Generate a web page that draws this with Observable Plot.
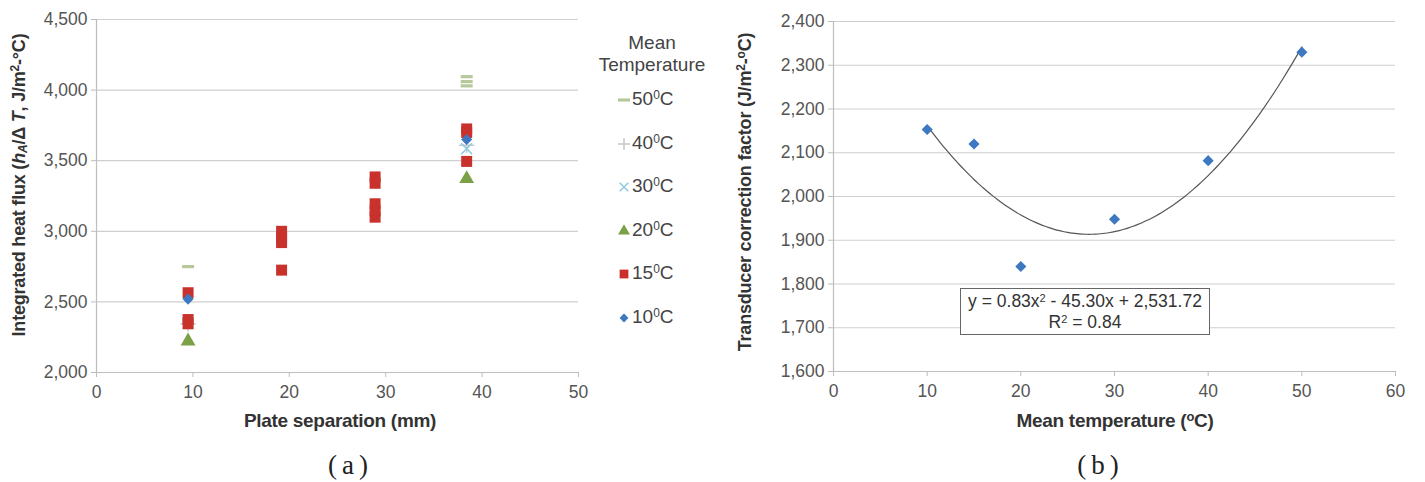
<!DOCTYPE html>
<html>
<head>
<meta charset="utf-8">
<script src="https://cdn.jsdelivr.net/npm/d3@7"></script>
<script src="https://cdn.jsdelivr.net/npm/@observablehq/plot@0.6"></script>
<style>
  html, body { margin: 0; padding: 0; background: #fff; }
  #wrap { position: relative; width: 1425px; height: 482px; overflow: hidden; font-family: "Liberation Sans", Arial, sans-serif; }
  .ytitle { position: absolute; font-weight: bold; font-size: 18px; color: #333; white-space: nowrap; transform: translate(-50%, -50%) rotate(-90deg); letter-spacing: -0.2px; }
  .xtitle { position: absolute; font-weight: bold; font-size: 19px; color: #333; white-space: nowrap; transform: translate(-50%, -50%); letter-spacing: -0.3px; }
  .cap { position: absolute; font-family: "Liberation Serif", "DejaVu Serif", serif; font-size: 27px; color: #222; transform: translate(-50%, -50%); white-space: nowrap; }
  .leg { position: absolute; font-size: 19px; color: #444; white-space: nowrap; }
  .eq { position: absolute; border: 1px solid #666; background: #fff; font-size: 17.5px; color: #333; text-align: center; line-height: 21px; box-sizing: border-box; white-space: nowrap; }
  sup { line-height: 0; vertical-align: 0.5em; }
  sub { line-height: 0; vertical-align: -0.2em; }
</style>
</head>
<body>
<div id="wrap"></div>
<script>
// ---------- Data: panel (a) ----------
const sepTicks = [0, 10, 20, 30, 40, 50];
const fluxTicks = [2000, 2500, 3000, 3500, 4000, 4500];
const legendLabels = ["50", "40", "30", "20", "15", "10"];

const sep50 = [9.5, 38.4, 38.4, 38.4];
const flux50 = [2750, 4095, 4060, 4030];
const sep40 = [9.5, 38.4];
const flux40 = [2345, 3610];
const sep30 = [9.5, 38.4];
const flux30 = [2350, 3585];
const sep20 = [9.5, 38.4];
const flux20 = [2222, 3372];
const sep15 = [9.5, 9.5, 9.5, 19.2, 19.2, 19.2, 19.2, 28.9, 28.9, 28.9, 28.9, 28.9, 38.4, 38.4, 38.4];
const flux15 = [2565, 2375, 2345, 3000, 2955, 2920, 2725, 3385, 3340, 3195, 3145, 3100, 3725, 3700, 3495];
const sep10 = [9.5, 38.4];
const flux10 = [2520, 3650];

// ---------- Data: panel (b) ----------
const tempTicks = [0, 10, 20, 30, 40, 50, 60];
const corrTicks = [1600, 1700, 1800, 1900, 2000, 2100, 2200, 2300, 2400];
const meanTemp = [10, 15, 20, 30, 40, 50];
const corrFactor = [2153, 2120, 1840, 1948, 2082, 2330];
const fitCoef = [0.83, -45.30, 2531.72]; // trendline y = a x^2 + b x + c, as printed on the chart
const fitRange = [10, 50];

// ---------- helpers ----------
const zip = (xs, ys) => xs.map((x, i) => ({x, y: ys[i]}));
const dashSymbol = { draw(ctx, size) { const w = 6, h = 1.6; ctx.moveTo(-w, -h); ctx.lineTo(w, -h); ctx.lineTo(w, h); ctx.lineTo(-w, h); ctx.closePath(); } };

const seriesA = [
  {name: "40", data: zip(sep40, flux40), symbol: "plus", stroke: "#c8c8c8", r: 5},
  {name: "30", data: zip(sep30, flux30), symbol: "times", stroke: "#8fcbe0", r: 5},
  {name: "20", data: zip(sep20, flux20), symbol: "triangle", fill: "#7ba046", r: 5.5},
  {name: "15", data: zip(sep15, flux15), symbol: "square", fill: "#c9322c", r: 6.2},
  {name: "50", data: zip(sep50, flux50), symbol: dashSymbol, fill: "#b7c99c", r: 5},
  {name: "10", data: zip(sep10, flux10), symbol: "diamond2", fill: "#3d78c0", r: 5}
];

const wrap = document.getElementById("wrap");
const tickStyle = {fontFamily: "'Liberation Sans', Arial, sans-serif", fontSize: "17.5px", color: "#555", background: "transparent", overflow: "visible"};

// ---------- Panel (a) ----------
const plotA = Plot.plot({
  width: 590, height: 432,
  marginLeft: 96, marginRight: 12, marginTop: 19, marginBottom: 60,
  style: tickStyle,
  x: {domain: [0, 50]},
  y: {domain: [2000, 4500]},
  marks: [
    Plot.ruleY(fluxTicks.slice(1), {stroke: "#cfcfcf", strokeWidth: 1.2}),
    Plot.ruleY([2000], {stroke: "#bdbdbd", strokeWidth: 1.2}),
    Plot.ruleX([0], {stroke: "#bdbdbd", strokeWidth: 1.2}),
    Plot.axisX({ticks: sepTicks, tickSize: 5, tickPadding: 8, label: null, stroke: "#bdbdbd", fill: "#555"}),
    Plot.axisY({ticks: fluxTicks, tickFormat: d3.format(","), tickSize: 5, tickPadding: 4, label: null, stroke: "#bdbdbd", fill: "#555"}),
    ...seriesA.map(s => Plot.dot(s.data, {x: "x", y: "y", symbol: () => s.symbol, r: s.r,
      fill: s.fill || "none", stroke: s.stroke || "none", strokeWidth: s.stroke ? 1.5 : 0}))
  ]
});
plotA.style.position = "absolute"; plotA.style.left = "0px"; plotA.style.top = "0px";
wrap.appendChild(plotA);

// axis titles (a)
const ya = document.createElement("div");
ya.className = "ytitle"; ya.style.left = "19px"; ya.style.top = "185px";
ya.innerHTML = "Integrated heat flux (<i>h</i><sub style='font-size:12px'><i>A</i></sub>/Δ <i>T</i>, J/m<sup style='font-size:12px'>2</sup>-°C)";
wrap.appendChild(ya);
const xa = document.createElement("div");
xa.className = "xtitle"; xa.style.left = "340px"; xa.style.top = "421px";
xa.textContent = "Plate separation (mm)";
wrap.appendChild(xa);

// legend (a)
const legHead = document.createElement("div");
legHead.className = "leg"; legHead.style.left = "596px"; legHead.style.top = "32px"; legHead.style.width = "112px";
legHead.style.textAlign = "center"; legHead.style.lineHeight = "22px";
legHead.innerHTML = "Mean<br>Temperature";
wrap.appendChild(legHead);
const legOrder = ["50", "40", "30", "20", "15", "10"];
legOrder.forEach((name, i) => {
  const s = seriesA.find(d => d.name === name);
  const y = 100 + i * 43.6;
  const svg = d3.create("svg").attr("width", 16).attr("height", 16)
    .style("position", "absolute").style("left", "616px").style("top", (y - 8) + "px");
  const size = Math.PI * (s.r * 0.8) ** 2;
  const type = s.symbol === "triangle" ? d3.symbolTriangle : s.symbol === "square" ? d3.symbolSquare
    : s.symbol === "plus" ? d3.symbolPlus : s.symbol === "times" ? d3.symbolTimes
    : s.symbol === "diamond2" ? d3.symbolDiamond2 : s.symbol;
  svg.append("path").attr("transform", "translate(8,8)").attr("d", d3.symbol(type, size)())
    .attr("fill", s.fill || "none").attr("stroke", s.stroke || "none").attr("stroke-width", 1.5);
  wrap.appendChild(svg.node());
  const t = document.createElement("div");
  t.className = "leg"; t.style.left = "632px"; t.style.top = (y - 12) + "px";
  t.innerHTML = name + "<sup style='font-size:12px'>0</sup>C";
  wrap.appendChild(t);
});

// ---------- Panel (b) ----------
const curve = d3.range(fitRange[0], fitRange[1] + 0.001, 0.5).map(x => ({x, y: fitCoef[0] * x * x + fitCoef[1] * x + fitCoef[2]}));
const plotB = Plot.plot({
  width: 688, height: 432,
  marginLeft: 96, marginRight: 30, marginTop: 21, marginBottom: 61,
  style: tickStyle,
  x: {domain: [0, 60]},
  y: {domain: [1600, 2400]},
  marks: [
    Plot.ruleY(corrTicks.slice(1), {stroke: "#cfcfcf", strokeWidth: 1.2}),
    Plot.ruleY([1600], {stroke: "#bdbdbd", strokeWidth: 1.2}),
    Plot.ruleX([0], {stroke: "#bdbdbd", strokeWidth: 1.2}),
    Plot.axisX({ticks: tempTicks, tickSize: 5, tickPadding: 8, label: null, stroke: "#bdbdbd", fill: "#555"}),
    Plot.axisY({ticks: corrTicks, tickFormat: d3.format(","), tickSize: 5, tickPadding: 4, label: null, stroke: "#bdbdbd", fill: "#555"}),
    Plot.line(curve, {x: "x", y: "y", stroke: "#555", strokeWidth: 1.2, curve: "natural"}),
    Plot.dot(meanTemp.map((t, i) => ({x: t, y: corrFactor[i]})), {x: "x", y: "y", symbol: "diamond2", r: 5, fill: "#3d78c0", stroke: "none"})
  ]
});
plotB.style.position = "absolute"; plotB.style.left = "737px"; plotB.style.top = "0px";
wrap.appendChild(plotB);

const yb = document.createElement("div");
yb.className = "ytitle"; yb.style.left = "745px"; yb.style.top = "192px";
yb.innerHTML = "Transducer correction factor (J/m<sup style='font-size:12px'>2</sup>-<sup style='font-size:12px'>o</sup>C)";
wrap.appendChild(yb);
const xb = document.createElement("div");
xb.className = "xtitle"; xb.style.left = "1115px"; xb.style.top = "421px";
xb.innerHTML = "Mean temperature (<sup style='font-size:13px'>o</sup>C)";
wrap.appendChild(xb);

const eq = document.createElement("div");
eq.className = "eq"; eq.style.left = "960px"; eq.style.top = "288px"; eq.style.width = "250px"; eq.style.height = "47px";
eq.style.paddingTop = "2px";
eq.innerHTML = "y = 0.83x<sup style='font-size:11px'>2</sup> - 45.30x + 2,531.72<br>R<sup style='font-size:11px'>2</sup> = 0.84";
wrap.appendChild(eq);

// captions
[["a", 348], ["b", 1098]].forEach(([txt, x]) => {
  const c = document.createElement("div");
  c.className = "cap"; c.style.left = x + "px"; c.style.top = "465px";
  c.innerHTML = "(<span style='margin:0 5px'>" + txt + "</span>)";
  wrap.appendChild(c);
});
</script>
</body>
</html>
